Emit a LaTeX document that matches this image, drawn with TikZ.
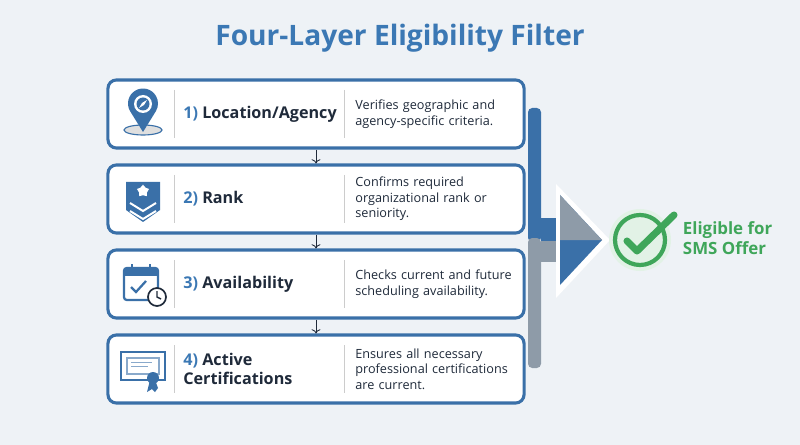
\documentclass[tikz,border=0pt]{standalone}
\usepackage{fontspec}
\setmainfont{Open Sans}
\usetikzlibrary{positioning,calc,arrows.meta,shapes.geometric}
\definecolor{pageBg}{HTML}{EEF2F6}
\definecolor{layerBlue}{HTML}{3A70A8}
\definecolor{titleBlue}{HTML}{3B78B4}
\definecolor{darkText}{HTML}{1F2A3A}
\definecolor{okGreen}{HTML}{3FA65A}
\definecolor{barGray}{HTML}{8E9BA8}
\tikzset{
  layer/.style={draw=layerBlue, line width=2.2pt, rounded corners=6pt, fill=white,
    minimum width=10.4cm, minimum height=1.7cm},
  layername/.style={font=\bfseries\fontsize{11.5}{14}\selectfont, text=darkText, anchor=west},
  info/.style={font={\fontsize{9}{11}\selectfont\hyphenpenalty=10000}, text=darkText, anchor=west, align=left,
    text width=4.1cm},
  sep/.style={draw=gray!40, line width=0.6pt},
  down/.style={-{To[length=3pt]}, draw=darkText, line width=0.6pt}
}
\begin{document}
\begin{tikzpicture}[x=0.025cm,y=-0.025cm]
  \fill[pageBg] (0,0) rectangle (800,445);
  \useasboundingbox (0,0) rectangle (800,445);
  \node[font=\bfseries\fontsize{20}{24}\selectfont, text=titleBlue] (title) at (400,38) {Four-Layer Eligibility Filter};
  % bracket
  \fill[layerBlue, rounded corners=3pt] (528,108) rectangle (541,242);
  \fill[barGray, rounded corners=3pt] (528,238) rectangle (541,368);
  \fill[layerBlue] (541,218) rectangle (562,241);
  \fill[barGray] (541,241) rectangle (562,262);
  \fill[white] (556,184) -- (610,240) -- (556,298) -- cycle;
  \fill[layerBlue] (560,195) -- (602,240) -- (560,285) -- cycle;
  \fill[barGray] (560,195) -- (602,240) -- (560,240) -- cycle;
  % layers
  \foreach \i/\y in {1/114,2/199,3/284,4/369}{
    \node[layer] (box\i) at (316,\y) {};
    \draw[sep] ($(box\i.west)+(68,-24)$) -- ($(box\i.west)+(68,24)$);
    \draw[sep] ($(box\i.west)+(238,-24)$) -- ($(box\i.west)+(238,24)$);
  }
  \foreach \a/\b in {1/2,2/3,3/4}
    \draw[down] (box\a.south) -- (box\b.north);
  \node[layername] (s1) at ($(box1.west)+(72,0)$) {\textcolor{titleBlue}{1)} Location/Agency};
  \node[layername] (s2) at ($(box2.west)+(72,0)$) {\textcolor{titleBlue}{2)} Rank};
  \node[layername] (s3) at ($(box3.west)+(72,0)$) {\textcolor{titleBlue}{3)} Availability};
  \node[layername, align=left] (s4) at ($(box4.west)+(72,0)$) {\textcolor{titleBlue}{4)} Active\\Certifications};
  \node[info] (d1) at ($(box1.west)+(244,0)$) {Verifies geographic and agency-specific criteria.};
  \node[info] (d2) at ($(box2.west)+(244,0)$) {Confirms required organizational rank or seniority.};
  \node[info] (d3) at ($(box3.west)+(244,0)$) {Checks current and future scheduling availability.};
  \node[info] (d4) at ($(box4.west)+(244,0)$) {Ensures all necessary professional certifications are current.};
  % icon: pin
  \fill[gray!25, draw=layerBlue, line width=0.8pt] (143,130) ellipse (19 and 5);
  \fill[layerBlue] (143,132) -- (130,111) arc (150:390:15) -- cycle;
  \fill[white] (143,104) circle (9);
  \fill[layerBlue] (143,104) circle (6.5);
  \fill[white] (147,100) -- (142,103) -- (139,108) -- (144,105) -- cycle;
  % icon: rank
  \fill[layerBlue] (126,182) -- (160,182) -- (160,210) -- (143,222) -- (126,210) -- cycle;
  \node[star, star points=5, fill=white, inner sep=0pt, minimum size=9pt] (rstar) at (143,191) {};
  \draw[white, line width=1.4pt] (130,203) -- (143,211) -- (156,203) (130,211) -- (143,219) -- (156,211);
  % icon: calendar
  \draw[layerBlue, line width=1.6pt, rounded corners=2pt, fill=white] (124,268) rectangle (158,300);
  \fill[layerBlue] (124,268) rectangle (158,276);
  \draw[layerBlue, line width=1.6pt] (132,264) -- (132,271) (150,264) -- (150,271);
  \draw[layerBlue, line width=1.6pt] (131,287) -- (136,292) -- (146,281);
  \draw[darkText, fill=white, line width=1.2pt] (157,297) circle (9);
  \draw[darkText, line width=1pt] (157,291) -- (157,297) -- (161,299);
  % icon: certificate
  \draw[layerBlue, line width=1.6pt, fill=white] (121,352) rectangle (165,380);
  \draw[layerBlue!60, line width=0.8pt] (127,358) rectangle (159,374);
  \draw[layerBlue!60] (131,362) -- (152,362) (131,366) -- (148,366);
  \fill[layerBlue] (150,380) -- (147,392) -- (152,389) -- (155,392) -- (158,388) -- (155,380) -- cycle;
  \fill[layerBlue] (153,378) circle (6);
  % result
  \fill[okGreen!15] (640,240) circle (31);
  \draw[okGreen, line width=3pt] (640,240) circle (25);
  \draw[okGreen, line width=5pt, line cap=round, line join=round] (627,241) -- (637,251) -- (674,215);
  \node[font=\bfseries\large, text=okGreen, align=left, anchor=west] (ok) at (678,238) {Eligible for\\SMS Offer};
\end{tikzpicture}
\end{document}
